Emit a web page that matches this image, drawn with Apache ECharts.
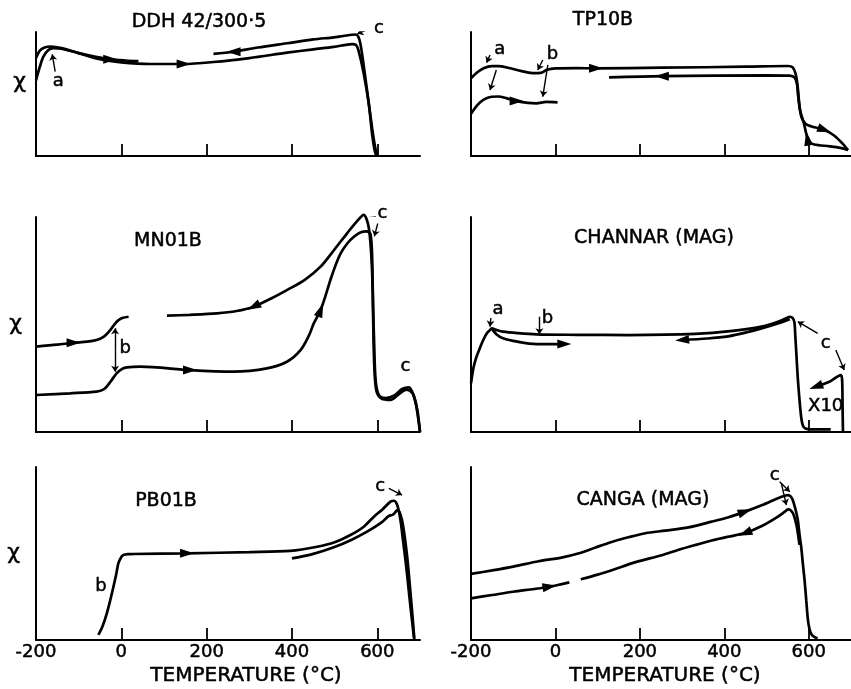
<!DOCTYPE html>
<html><head><meta charset="utf-8">
<script src="https://cdn.jsdelivr.net/npm/echarts@6/dist/echarts.min.js"></script>
<style>html,body{margin:0;padding:0;background:#fff}#c{width:851px;height:689px}</style>
</head><body><div id="c"></div>
<script>
// ---------------- DATA ----------------
const panelTitles = ['DDH 42/300·5', 'TP10B', 'MN01B', 'CHANNAR (MAG)', 'PB01B', 'CANGA (MAG)'];
const xTickLabels = [-200, 0, 200, 400, 600];
const xTickMarks = [0, 200, 400, 600];
const xAxisTitle = 'TEMPERATURE (°C)';
const yAxisTitle = 'χ';

// DDH 42/300·5
const ddhRunA = [[-200,61],[-191,72],[-183,80],[-171,85.5],[-160,87],[-140,86.5],[-100,83],[-60,80],[-26,78],[10,77],[40,76.5]];
const ddhHeat = [[-200,79],[-191,85],[-180,87.5],[-165,88.3],[-140,87],[-100,83],[-50,78],[0,75.5],[68,74.2],[146,74.2],[216,75.8],[300,79],[388,83.3],[450,86],[498,88],[541,90.3],[550,89.5],[556,85],[568,66.7],[580,42],[588,17],[594,4],[598,0]];
const ddhCool = [[601,0],[596,5],[588,22],[577,50],[566,78],[560,91],[555,96.5],[549,98],[520,96.8],[498,95.7],[450,94],[388,90.9],[320,87.5],[263,84.1],[216,82.3]];

// TP10B
const tpRunA = [[-200,34],[-185,41],[-170,45.5],[-151,47.8],[-135,48],[-115,46.5],[-92,44.3],[-65,42.8],[-45,42.5],[-22,43.6],[5,43.3]];
const tpHeat = [[-200,62.6],[-185,67.5],[-170,70.8],[-151,72.5],[-135,72.5],[-110,71],[-80,68.5],[-50,66.8],[-35,67],[-20,69.5],[0,70.6],[50,70.8],[96,70.7],[252,71.2],[450,72],[551,72.6],[562,71.5],[569,66],[574,55],[578,40],[583,31],[592,26],[605,24],[637,21],[660,16.5],[680,10],[693,4.8]];
const tpCool = [[693,4.8],[675,6.5],[650,7.8],[613,9.3],[600,11.5],[594,18],[588,27],[580,36],[575,48],[572,58],[567,63],[555,64.8],[500,65],[252,64.4],[127,63.4]];

// MN01B
const mnRunA = [[-200,39.7],[-150,40.6],[-112,41.5],[-80,42],[-58,42.8],[-40,44.5],[-26,47.4],[-11,51.3],[2,53],[17,53.6]];
const mnHeat = [[-200,17.2],[-120,18],[-58,18.8],[-40,20],[-25,23.5],[-11,27.3],[3,29.5],[13,30.1],[44,30.4],[161,28.8],[263,28.1],[341,29.6],[388,32.7],[420,38.1],[440,45],[451,50.5],[467,56.7],[478,63],[490,70.7],[502,77.5],[514,83.1],[530,87.8],[545,90.8],[560,92.8],[575,93.3],[584,92],[588,80],[590,55],[593,30],[598,19],[610,15.5],[631,14.9],[650,17.5],[668,19.7],[682,18.2],[690,13.3],[696,6],[700,0]];
const mnCool = [[700,0],[694,10],[686,16.5],[674,20.8],[658,20],[640,17],[620,15.8],[604,17],[596,24],[592,45],[587,78],[580,95],[568,101],[552,98],[529,92.4],[500,85],[467,76.9],[430,70.8],[388,66],[350,62],[310,58.3],[270,56.3],[224,55.2],[160,54.5],[107,54.1]];

// CHANNAR (MAG)
const chHeat = [[-200,22.6],[-194,30],[-187,35],[-178,39.5],[-171,42.8],[-162,46],[-155,47.4],[-151,48.2],[-140,47.5],[-124,46.7],[-90,46],[-45,45.4],[50,45.2],[174,45.1],[331,45.6],[420,47],[488,49],[527,51.3],[545,52.8],[555,53.6],[562,53],[566,51],[568,45],[571,35],[574,25],[578,15],[582,7],[586,3],[592,1.6],[605,1.2],[620,1.2],[652,1.2]];
const chRunB = [[-151,48.2],[-140,45.5],[-124,43.6],[-90,42],[-45,40.9],[0,40.9],[21,40.9]];
const chCool = [[555,52.5],[534,51],[488,48.2],[450,46.2],[409,44.5],[360,43.5],[300,42.8]];
const chX10 = [[617,21.1],[650,23.5],[676,26.5],[679,24],[680,12],[681,0]];

// PB01B
const pbHeat = [[-54,2.9],[-44,8],[-34,15.4],[-26,23],[-18.5,30.8],[-12,38],[-7,44.3],[0,48],[5,49.1],[15,49.6],[28,49.7],[154,50.1],[300,50.8],[396,51.5],[459,53.9],[500,56.5],[537,60.7],[566,65],[592,71.3],[612,75.5],[631,80],[639,80.5],[645,79],[650,75],[655,68],[660,58],[666,46],[671,35],[676,23],[681,12],[686,1]];
const pbCool = [[687,0],[682,15],[676,32],[670,48],[664,60],[658,69],[652,74],[647,75.1],[641,73.5],[635,72.3],[627,71.7],[610,68],[576,62.6],[540,58],[498,53.6],[450,49.8],[400,47.2]];

// CANGA (MAG)
const cgUpper = [[-200,38.2],[-150,40.2],[-100,42.4],[-40,45.5],[17,47.8],[56,50.1],[95,53.5],[135,56.8],[175,59.5],[213,61.7],[260,63.2],[315,65.1],[370,68.4],[410,71],[449,74.2],[490,78],[527,81.9],[545,83.5],[551,83.8],[557,83],[562,80.9],[568,76],[574,69.4],[578,61],[582,53.9],[586,44],[590,34.7],[594,23],[598,11.6],[602,6],[607,3],[615,1.5],[621,1]];
const cgLowerA = [[-200,24.1],[-150,26],[-100,27.9],[-50,29.5],[-14,30.8],[15,32.3],[33,33.3]];
const cgLowerB = [[60,35.1],[100,37.8],[135,40.5],[190,45],[252,49],[290,52],[331,54.9],[370,57.5],[409,59.7],[449,61.8],[490,66],[527,71.3],[545,74.5],[551,75.5],[557,75],[562,73.5],[566,71],[572,65],[578,55]];

// curves per panel
const panelCurves = [
  [ddhRunA, ddhHeat, ddhCool],
  [tpRunA, tpHeat, tpCool],
  [mnRunA, mnHeat, mnCool],
  [chHeat, chRunB, chCool, chX10],
  [pbHeat, pbCool],
  [cgUpper, cgLowerA, cgLowerB]
];

// direction arrowheads on curves: [temperature, chi, rotation(deg)]
const panelArrows = [
  [[-26,78,-90],[146,74.2,-90],[263,84.1,90]],
  [[-92,44.3,-90],[96,70.7,-90],[252,64.4,90],[637,21,-110],[597,14,10]],
  [[-112,41.5,-90],[161,28.8,-90],[467,56.7,-21],[310,58.3,117]],
  [[21,40.9,-90],[300,42.8,95],[617,21.1,110]],
  [[154,50.1,-90]],
  [[-14,30.8,-81],[449,74.2,-71],[449,61.8,112]]
];

// letter annotations: [text, temperature, chi]
const panelLabels = [
  [['a',-148,60],['c',604,103]],
  [['a',-132,86],['b',-7,82]],
  [['b',9,38.9],['c',612,101.5],['c',666,30.4]],
  [['a',-136,57],['b',-19,53],['c',640,41.2],['X10',640,11.8]],
  [['b',-48,31],['c',607,88.6]],
  [['c',519,95.4]]
];

// pointer arrows: [[fromT, fromChi],[toT, toChi]]
const panelPointers = [
  [[[-155,68],[-162,82]], [[584,103],[553,98.5]]],
  [[[-155,81.5],[-163,75.3]], [[-140,69.4],[-155,53.2]], [[-30,77.4],[-42,69.4]], [[-18,73.4],[-30,47.8]]],
  [[[-14.6,38],[-14.6,48.2]], [[-14.6,38],[-14.6,28]], [[598,102],[582,100.5]], [[601,97],[593,91]]],
  [[[-153,53],[-155,49]], [[-38,53.6],[-38,45.5]], [[621,45.9],[574,51.3]], [[664,38.1],[684,28.8]]],
  [[[627,87.7],[658,83.8]]],
  [[[531,91.5],[555,85.7]], [[535,90.5],[547,78]]]
];

// ---------------- LAYOUT / STYLE ----------------
const FONT = 'DejaVu Sans';
const INK = '#000';
const thick = {textBorderColor: INK, textBorderWidth: 0.5};
const grids = [
  {left: 36, top: 32, width: 384, height: 124},
  {left: 471, top: 32, width: 383, height: 124},
  {left: 36, top: 217, width: 384, height: 215},
  {left: 471, top: 217, width: 383, height: 215},
  {left: 36, top: 467, width: 384, height: 173},
  {left: 471, top: 467, width: 383, height: 173}
];
const titlePos = [[194,8],[598,6],[163,227],[649,224],[161,487],[638,486]];

const option = {
  animation: false,
  backgroundColor: '#fff',
  title: panelTitles.map((t, i) => ({
    text: t, left: titlePos[i][0], top: titlePos[i][1], textAlign: 'center',
    textStyle: Object.assign({fontSize: 19, fontWeight: 'normal', color: INK, fontFamily: FONT}, thick)
  })),
  grid: grids,
  xAxis: grids.map((g, i) => {
    const bottom = i >= 4;
    return {
      type: 'value', gridIndex: i, min: -200, max: 700, interval: 200,
      axisLine: {show: true, onZero: false, lineStyle: {color: INK, width: 2}},
      axisTick: {show: true, inside: true, length: 12, customValues: xTickMarks, lineStyle: {color: INK, width: 1.8}},
      axisLabel: Object.assign({show: bottom, customValues: xTickLabels, margin: 3, color: INK, fontSize: 18, fontFamily: FONT}, thick),
      splitLine: {show: false},
      name: bottom ? xAxisTitle : '', nameLocation: 'middle', nameGap: 26,
      nameTextStyle: Object.assign({fontSize: 20, color: INK, fontFamily: FONT, padding: i === 4 ? [0,0,0,36] : [0,0,0,8]}, thick)
    };
  }),
  yAxis: grids.map((g, i) => {
    const left = i % 2 === 0;
    return {
      type: 'value', gridIndex: i, min: 0, max: 100,
      axisLine: {show: true, onZero: false, lineStyle: {color: INK, width: 2}},
      axisTick: {show: false}, axisLabel: {show: false}, splitLine: {show: false},
      name: left ? (i === 0 ? yAxisTitle + '\n' : yAxisTitle) : '',
      nameLocation: 'middle', nameRotate: 0,
      nameGap: i === 0 ? 10 : (i === 2 ? 14 : 16),
      nameTextStyle: Object.assign({fontSize: 22, lineHeight: 24, color: INK, fontFamily: FONT}, thick)
    };
  }),
  series: []
};

panelCurves.forEach((curves, i) => {
  curves.forEach(c => {
    option.series.push({
      type: 'line', xAxisIndex: i, yAxisIndex: i, data: c,
      showSymbol: false, symbol: 'none', smooth: 0.3, clip: false, silent: true,
      lineStyle: {color: INK, width: 2.7}
    });
  });
  option.series.push({
    type: 'scatter', xAxisIndex: i, yAxisIndex: i, silent: true, clip: false,
    symbol: 'triangle', symbolSize: [9, 14],
    itemStyle: {color: INK, opacity: 1},
    data: panelArrows[i].map(a => ({value: [a[0], a[1]], symbolRotate: a[2]}))
  });
  option.series.push({
    type: 'scatter', xAxisIndex: i, yAxisIndex: i, silent: true, clip: false,
    symbolSize: 0, itemStyle: {opacity: 1},
    label: Object.assign({show: true, position: 'inside', formatter: '{b}', color: INK, fontSize: 18, fontFamily: FONT}, thick),
    data: panelLabels[i].map(l => ({name: l[0], value: [l[1], l[2]]}))
  });
  option.series.push({
    type: 'lines', coordinateSystem: 'cartesian2d', xAxisIndex: i, yAxisIndex: i, silent: true,
    symbol: ['none', 'arrow'], symbolSize: 6,
    lineStyle: {color: INK, width: 1.4, opacity: 1},
    data: panelPointers[i].map(p => ({coords: p}))
  });
});

const chart = echarts.init(document.getElementById('c'), null, {renderer: 'canvas'});
chart.setOption(option);
</script>
</body></html>
